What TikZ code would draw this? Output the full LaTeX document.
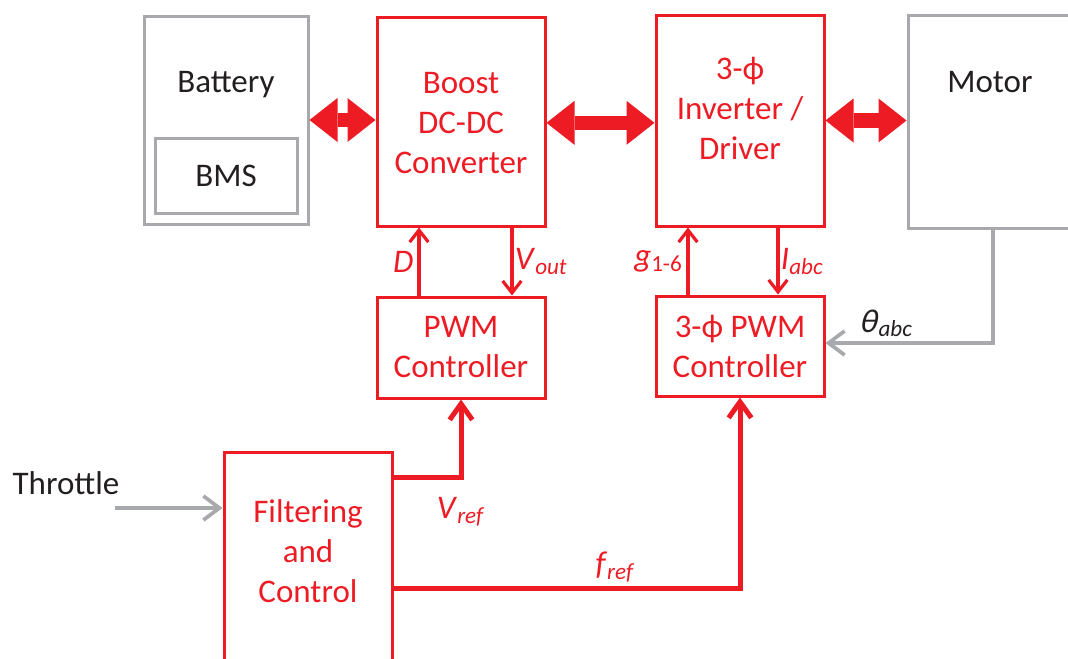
\documentclass[tikz,border=0pt]{standalone}
\usepackage{fontspec}
\setmainfont{Carlito}
\newfontfamily\slantgreek{Carlito}[FakeSlant=0.22]
\usetikzlibrary{arrows.meta}
\definecolor{boxred}{RGB}{237,28,36}
\definecolor{boxgrey}{RGB}{167,169,172}
\definecolor{txtdark}{RGB}{35,31,32}
\newcommand{\signame}[2]{\textit{#1}\textsubscript{\textit{#2}}}

\begin{document}
\begin{tikzpicture}[x=0.75pt, y=-0.75pt, font=\fontsize{24.75}{30}\selectfont,
    redbox/.style={draw=boxred, line width=2.25pt, text=boxred, align=center},
    greybox/.style={draw=boxgrey, line width=2.25pt, text=txtdark, align=center},
    power/.style={draw=boxred, line width=11pt,
        {Triangle[length=21pt,width=33pt,line width=0pt]}-{Triangle[length=21pt,width=33pt,line width=0pt]}},
    sig/.style={draw=boxred, line width=2.4pt, -{Straight Barb[length=9pt,width=14pt]}},
    bigsig/.style={draw=boxred, line width=3.75pt, -{Straight Barb[length=12pt,width=17pt]}},
    meas/.style={draw=boxgrey, line width=2.8pt, -{Straight Barb[length=12pt,width=18pt]}},
    lbl/.style={text=boxred, inner sep=3pt}]
    \useasboundingbox (0,0) rectangle (1068,658);
    \clip (0,0) rectangle (1068,658);

    % power stage
    \node[greybox, minimum width=123pt, minimum height=156pt] (bat) at (226,120) {};
    \node[text=txtdark] (battxt) at (226,85) {Battery};
    \node[greybox, minimum width=106.5pt, minimum height=56.25pt] (bms) at (226,176) {BMS};
    \node[redbox, minimum width=126pt, minimum height=156.75pt] (boost) at (461,121.5) {};
    \node[text=boxred, align=center] (boosttxt) at (461,123.5) {Boost\\DC-DC\\Converter};
    \node[redbox, minimum width=126pt, minimum height=158.25pt] (inv) at (740,120.5) {};
    \node[text=boxred, align=center] (invtxt) at (740,108) {3-ϕ\\Inverter /\\Driver};
    \node[greybox, minimum width=124.5pt, minimum height=159.75pt] (mot) at (991,122) {};
    \node[text=txtdark] (mottxt) at (990,82) {Motor};

    % controllers
    \node[redbox, minimum width=126pt, minimum height=75.75pt] (pwm) at (461,347.5) {PWM\\Controller};
    \node[redbox, minimum width=126pt, minimum height=75pt] (pwm3) at (740,346) {3-ϕ PWM\\Controller};
    \node[redbox, minimum width=126pt, minimum height=169.5pt] (filt) at (308,565) {};
    \node[text=boxred, align=center] (filttxt) at (308,551) {Filtering\\and\\Control};
    \node[text=txtdark] (throttle) at (66,483) {Throttle};
    \coordinate (thr) at (115,508);

    % power flow
    \draw[power] (bat.east) -- (bat.east -| boost.west);
    \draw[power] ([yshift=-1pt]boost.east) -- ([yshift=-1pt]boost.east -| inv.west);
    \draw[power] (inv.east) -- (inv.east -| mot.west);

    % signals
    \draw[sig] (pwm.north -| 419,0) -- node[lbl, left] {\textit{D}} (boost.south -| 419,0);
    \draw[sig] (boost.south -| 512,0) -- node[lbl, right, inner sep=1pt] {\signame{V}{out}} (pwm.north -| 512,0);
    \draw[sig] (pwm3.north -| 688,0) -- node[lbl, left] {\textit{g}\textsubscript{1-6}} (inv.south -| 688,0);
    \draw[sig] (inv.south -| 778,0) -- node[lbl, right, inner sep=1pt] {\signame{I}{abc}} (pwm3.north -| 778,0);
    \draw[meas] (mot.south -| 993,0) |- node[pos=0.82, above, text=txtdark, inner sep=3pt] {{\slantgreek θ}\kern1.5pt\textsubscript{\textit{abc}}} (pwm3.east |- 0,343);
    \draw[meas] (thr) -- (thr -| filt.west);
    \draw[bigsig] ([yshift=-20.25pt]filt.north east) -| node[lbl, pos=0.5, below=10pt] {\signame{V}{ref}} (pwm.south);
    \draw[bigsig] ([yshift=-103.5pt]filt.north east) -| node[lbl, pos=0.32, above] {\signame{f}{ref}} (pwm3.south);
\end{tikzpicture}
\end{document}
